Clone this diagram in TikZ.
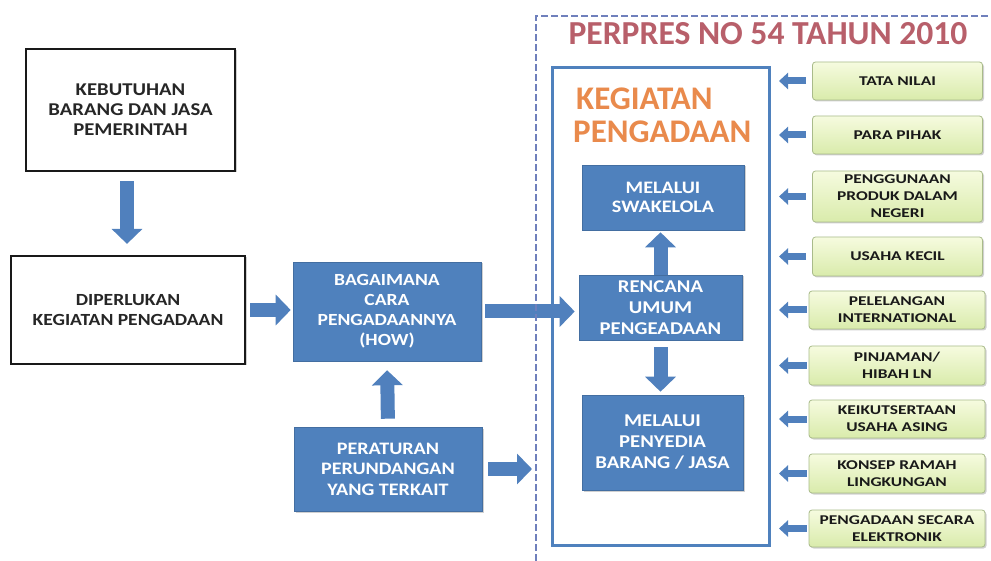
\documentclass[tikz,border=0pt]{standalone}
\usepackage{fontspec}
\setmainfont{Carlito}
\newfontfamily\bfont{Carlito}[FakeStretch=1.15]
\newfontfamily\gfont{Carlito}[FakeStretch=1.3]
\usetikzlibrary{arrows.meta,shadows}
\definecolor{boxblue}{HTML}{4F81BD}
\definecolor{arrowblue}{HTML}{5080BD}
\definecolor{dashblue}{HTML}{6F80BC}
\definecolor{titlered}{HTML}{B85F6A}
\definecolor{kegorange}{HTML}{E98A4C}
\definecolor{gtop}{HTML}{F6FBDF}
\definecolor{gbot}{HTML}{D9EBAB}
\definecolor{gborder}{HTML}{A9BB8A}
\tikzset{
  softshadow/.style={drop shadow={shadow xshift=1.5pt, shadow yshift=-1.5pt, opacity=0.3, fill=black!60}},
  whitebox/.style={draw=black!90, line width=2.2pt, fill=white, align=center, inner sep=0pt,
    text=black!85, softshadow},
  bluebox/.style={fill=boxblue, draw=boxblue!85!black, line width=0.6pt, text=white, align=center,
    inner sep=0pt, softshadow},
  greenbox/.style={rounded corners=3pt, draw=gborder, line width=.8pt, top color=gtop, bottom color=gbot,
    align=center, inner sep=0pt, text=black!90, minimum width=170pt, softshadow,
    font={\gfont\bfseries\fontsize{13.4}{17}\selectfont}},
  widegreen/.style={greenbox, minimum width=176pt},
  bigarrow/.style={draw=arrowblue, line width=14pt, -{Triangle[length=15pt,width=30pt]}},
  smallarrow/.style={draw=arrowblue, line width=7pt, -{Triangle[length=9pt,width=16pt]}},
}
\begin{document}
\begin{tikzpicture}[x=1pt,y=-1pt]
\useasboundingbox (0,0) rectangle (991,561);
\fill[white] (0,0) rectangle (991,561);

% left column
\node[whitebox, minimum width=209pt, minimum height=122pt,
  font={\bfont\bfseries\fontsize{18}{20}\selectfont}] (kebut) at (130.5,110)
  {KEBUTUHAN\\BARANG DAN JASA\\PEMERINTAH};
\node[whitebox, minimum width=234pt, minimum height=108pt,
  font={\bfont\bfseries\fontsize{17}{20}\selectfont}] (diperlu) at (128,310)
  {DIPERLUKAN\\KEGIATAN PENGADAAN};

% middle column
\node[bluebox, minimum width=188pt, minimum height=99pt,
  font={\bfont\bfseries\fontsize{17}{20}\selectfont}] (bagai) at (387,311.5)
  {BAGAIMANA\\CARA\\PENGADAANNYA\\(HOW)};
\node[bluebox, minimum width=188pt, minimum height=84pt,
  font={\bfont\bfseries\fontsize{17.5}{20.5}\selectfont}] (perat) at (388,469)
  {PERATURAN\\PERUNDANGAN\\YANG TERKAIT};

% big box
\node[draw=boxblue, line width=3pt, minimum width=217pt, minimum height=477pt, inner sep=0pt] (kegbox) at (660.5,306.5) {};
\node[text=kegorange, align=left, inner sep=0pt, font={\bfseries\fontsize{33}{33}\selectfont}, anchor=base west] (kegtitle) at (573,143) {\hspace*{3pt}KEGIATAN\\PENGADAAN};

\node[bluebox, minimum width=162pt, minimum height=65pt,
  font={\bfont\bfseries\fontsize{17.5}{19.5}\selectfont}] (swak) at (663,197.5)
  {MELALUI\\SWAKELOLA};
\node[bluebox, minimum width=163pt, minimum height=65pt,
  font={\bfont\bfseries\fontsize{18}{21}\selectfont}] (renc) at (660.5,307.5)
  {RENCANA\\UMUM\\PENGEADAAN};
\node[bluebox, minimum width=161pt, minimum height=95pt,
  font={\bfont\bfseries\fontsize{18}{21}\selectfont}] (penyedia) at (662.5,442.5)
  {MELALUI\\PENYEDIA\\BARANG / JASA};

% title
\node[text=titlered, font={\bfseries\fontsize{33.6}{34}\selectfont}, anchor=base] (title) at (768,45) {PERPRES NO 54 TAHUN 2010};

% green boxes
\node[greenbox, minimum height=38pt] (g1) at (897.5,81) {TATA NILAI};
\node[greenbox, minimum height=38pt] (g2) at (897.5,135) {PARA PIHAK};
\node[greenbox, minimum height=51pt] (g3) at (897.5,196.5) {PENGGUNAAN\\PRODUK DALAM\\NEGERI};
\node[greenbox, minimum height=39pt] (g4) at (897.5,256.5) {USAHA KECIL};
\node[widegreen, minimum height=38pt] (g5) at (897,310) {PELELANGAN\\INTERNATIONAL};
\node[widegreen, minimum height=39pt] (g6) at (897,365.5) {PINJAMAN/\\HIBAH LN};
\node[widegreen, minimum height=38pt] (g7) at (897,419) {KEIKUTSERTAAN\\USAHA ASING};
\node[widegreen, minimum height=39pt] (g8) at (897,473.5) {KONSEP RAMAH\\LINGKUNGAN};
\node[widegreen, minimum height=37pt] (g9) at (897,528.5) {PENGADAAN SECARA\\ELEKTRONIK};

% connectors
\coordinate (pend) at (532,467);
\coordinate (gleft) at (779,0);
\draw[bigarrow, shorten <=9pt, shorten >=11pt] (kebut.south -| 127,0) -- (diperlu.north -| 127,0);
\draw[bigarrow, shorten <=4pt, shorten >=2pt] (diperlu.east) -- (diperlu.east -| bagai.west);
\draw[bigarrow, shorten <=8pt, shorten >=9pt] (perat.north) -- (bagai.south);
\draw[bigarrow, shorten <=6pt] (perat.east) -- (perat.east -| pend);
\draw[bigarrow, shorten <=4pt, shorten >=4pt] (bagai.east) -- (bagai.east -| renc.west);
\draw[bigarrow, shorten >=2pt] (renc.north) -- (renc.north |- swak.south);
\draw[bigarrow, shorten <=7pt, shorten >=3pt] (renc.south) -- (renc.south |- penyedia.north);
\foreach \g in {g1,g2,g3,g4}
  \draw[smallarrow, shorten <=6pt] (\g.west) -- (\g.west -| gleft);
\foreach \g in {g5,g6,g7,g8,g9}
  \draw[smallarrow, shorten <=2pt] (\g.west) -- (\g.west -| gleft);

% dashed frame
\draw[dashblue, line width=2.4pt, dash pattern=on 7pt off 3pt] (536,561) -- (536,16) -- (991,16);
\end{tikzpicture}
\end{document}
